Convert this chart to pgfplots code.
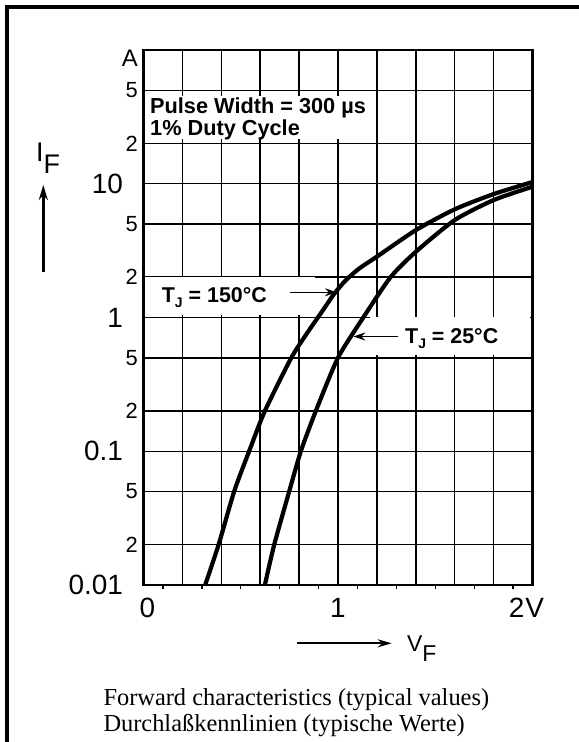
\documentclass[border=0pt]{standalone}
\usepackage{fontspec}
\setmainfont{Liberation Sans}
\newfontfamily\capfont{Liberation Serif}
\usepackage{pgfplots}
\pgfplotsset{compat=1.18}
\usetikzlibrary{arrows.meta}

\newcommand{\dec}[1]{\fontsize{28}{28}\selectfont #1\hspace*{15bp}}
\newcommand{\mn}[1]{\fontsize{22}{22}\selectfont #1}

\pgfplotstableread{
V I
0.317 0.01
0.386 0.02
0.466 0.05
0.543 0.1
0.624 0.2
0.76 0.5
0.84 0.76
0.92 1.12
0.98 1.5
1.04 1.9
1.11 2.33
1.2 2.85
1.4 4.5
1.6 6.44
1.8 8.37
2.0 10.3
}\hot
\pgfplotstableread{
V I
0.624 0.01
0.672 0.02
0.749 0.05
0.809 0.1
0.886 0.2
1.0 0.5
1.13 1.0
1.27 2.0
1.4 3.1
1.6 5.35
1.8 7.55
2.0 9.5
}\cold

\begin{document}
\begin{tikzpicture}
\useasboundingbox (0,0) rectangle (579bp,742bp);
\draw[line width=4.5bp] (7bp,0) -- (7bp,735bp) -- (579bp,735bp);
\begin{axis}[
  at={(143.5bp,157bp)}, anchor=south west, scale only axis,
  width=389bp, height=535bp,
  xmin=0, xmax=2, ymin=0.01, ymax=100, ymode=log,
  axis line style={line width=2.2bp},
  grid=major, major grid style={line width=1.5bp, black},
  xtick={0,0.2,0.4,0.6,0.8,1,1.2,1.4,1.6,1.8,2},
  xticklabels={\hspace*{8bp}0,,,,,1,,,,,2\kern1bp V\hspace*{12bp}},
  minor xtick={0.1,0.3,0.5,0.7,0.9,1.1,1.3,1.5,1.7,1.9},
  ytick={0.01,0.02,0.05,0.1,0.2,0.5,1,2,5,10,20,50,100},
  yticklabels={\dec{0.01},\mn{2},\mn{5},\dec{0.1},\mn{2},\mn{5},\dec{1},\mn{2},\mn{5},\dec{10},\mn{2},\mn{5},{\fontsize{24}{24}\selectfont\raisebox{-16.5bp}[0pt][0pt]{A}}},
  yminorticks=false,
  xtick pos=bottom, ytick pos=left,
  major tick length=0pt,
  minor tick length=4.5bp,
  tick align=outside,
  minor tick style={line width=1.3bp, black},
  xticklabel style={anchor=north, inner sep=0pt, yshift=-13bp, font=\fontsize{28}{28}\selectfont},
  yticklabel style={anchor=east, inner sep=0pt, xshift=-5.5bp},
]
% white label backgrounds
\fill[white] (rel axis cs:0.005,0.8336) rectangle (rel axis cs:0.577,0.914);
\fill[white] (rel axis cs:0.005,0.5056) rectangle (rel axis cs:0.44,0.5748);
\fill[white] (rel axis cs:0.5823,0.4308) rectangle (rel axis cs:0.994,0.5009);

\addplot[line width=4.2bp, black, smooth, tension=0.4] table[x=V,y=I] {\hot};
\addplot[line width=4.2bp, black, smooth, tension=0.4] table[x=V,y=I] {\cold};

\node[anchor=base west, inner sep=0pt, font=\fontsize{21.8}{21.8}\selectfont\bfseries] at (rel axis cs:0.0167,0.8804) {Pulse Width = 300 µs};
\node[anchor=base west, inner sep=0pt, font=\fontsize{21.8}{21.8}\selectfont\bfseries] at (rel axis cs:0.0167,0.8398) {1\% Duty Cycle};

\node[anchor=base west, inner sep=0pt, font=\fontsize{21.5}{21.5}\selectfont\bfseries] at (rel axis cs:0.0468,0.5277) {T\raisebox{-5bp}{\fontsize{14}{14}\selectfont J} = 150°C};
\draw[line width=1.5bp, -{Stealth[length=12bp,width=8bp]}] (rel axis cs:0.3766,0.5471) -- (rel axis cs:0.4974,0.5471);

\node[anchor=base west, inner sep=0pt, font=\fontsize{21.5}{21.5}\selectfont\bfseries] at (rel axis cs:0.6722,0.4518) {T\raisebox{-5bp}{\fontsize{14}{14}\selectfont J} = 25°C};
\draw[line width=1.5bp, -{Stealth[length=12bp,width=8bp]}] (rel axis cs:0.655,0.4645) -- (rel axis cs:0.5393,0.4645);
\end{axis}

% axis quantity labels
\node[anchor=base west, inner sep=0pt, font=\fontsize{27}{27}\selectfont] at (36bp,580.3bp) {I\raisebox{-11.6bp}{F}};
\draw[line width=2.5bp, -{Stealth[length=15bp,width=9bp]}] (43.3bp,470.3bp) -- (43.3bp,557bp);
\draw[line width=2.2bp, -{Stealth[length=14bp,width=8bp]}] (296.7bp,98.7bp) -- (391.7bp,98.7bp);
\node[anchor=base west, inner sep=0pt, font=\fontsize{23}{23}\selectfont] at (407bp,90.3bp) {V\raisebox{-10bp}{F}};

% caption
\node[anchor=base west, inner sep=0pt, font=\capfont\fontsize{24.5}{24.5}\selectfont] at (103.3bp,37bp) {Forward characteristics (typical values)};
\node[anchor=base west, inner sep=0pt, font=\capfont\fontsize{24.5}{24.5}\selectfont] at (103.3bp,10.3bp) {Durchlaßkennlinien (typische Werte)};
\end{tikzpicture}
\end{document}
